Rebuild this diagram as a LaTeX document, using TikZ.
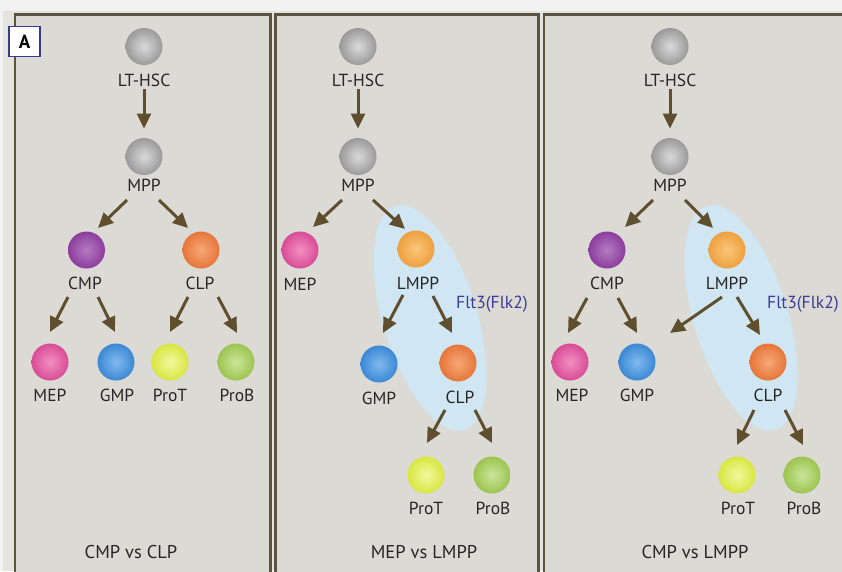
\documentclass[tikz,border=0pt]{standalone}
\usepackage{fontspec}
\setmainfont{PT Sans}
\usetikzlibrary{arrows.meta,calc}
\definecolor{outerbg}{HTML}{E4E3DE}
\definecolor{panelbg}{HTML}{DBDAD5}
\definecolor{frameC}{HTML}{5B5440}
\definecolor{arrC}{HTML}{5F4F2F}
\definecolor{txtC}{HTML}{262626}
\definecolor{fltC}{HTML}{3C3C96}
\definecolor{ellC}{HTML}{D0E7F3}
\definecolor{boxC}{HTML}{3A3A8C}
\definecolor{grayI}{HTML}{DADADA}
\definecolor{grayO}{HTML}{9A9A9A}
\definecolor{purI}{HTML}{B57BC2}
\definecolor{purO}{HTML}{8C3D9C}
\definecolor{orI}{HTML}{F6A878}
\definecolor{orO}{HTML}{E6763A}
\definecolor{lmI}{HTML}{F9C678}
\definecolor{lmO}{HTML}{EEA040}
\definecolor{pkI}{HTML}{F290C2}
\definecolor{pkO}{HTML}{D84C96}
\definecolor{blI}{HTML}{80BAEE}
\definecolor{blO}{HTML}{3C88D4}
\definecolor{yeI}{HTML}{F3F7A0}
\definecolor{yeO}{HTML}{D8E640}
\definecolor{grI}{HTML}{CCE59A}
\definecolor{grO}{HTML}{9CC450}
\tikzset{
  cell/.style 2 args={circle,minimum size=37pt,inner sep=0pt,inner color=#1,outer color=#2},
  cgray/.style={cell={grayI}{grayO}},
  cpurple/.style={cell={purI}{purO}},
  corange/.style={cell={orI}{orO}},
  clmpp/.style={cell={lmI}{lmO}},
  cpink/.style={cell={pkI}{pkO}},
  cblue/.style={cell={blI}{blO}},
  cyellow/.style={cell={yeI}{yeO}},
  cgreen/.style={cell={grI}{grO}},
  lbl/.style={font=\fontsize{17.5}{20}\selectfont,text=txtC,inner sep=0pt},
  bottomtxt/.style={font=\fontsize{18.5}{21}\selectfont,text=txtC,inner sep=0pt},
  flt/.style={font=\fontsize{17.5}{20}\selectfont,text=fltC,inner sep=0pt,anchor=west},
  arr/.style={draw=arrC,line width=3pt,-{Triangle[length=15pt,width=14pt]}},
  frame/.style={draw=frameC,line width=2.2pt,fill=panelbg},
}
\begin{document}
\begin{tikzpicture}[x=1pt,y=-1pt]
\useasboundingbox (0,0) rectangle (842,571);
\fill[white!95!black] (0,0) rectangle (842,571);
\fill[outerbg] (3,11) rectangle (842,571);
% panels
\draw[frame] (15.3,14.5) rectangle (270.5,590);
\draw[frame] (275.5,14.5) rectangle (538.5,590);
\draw[frame] (544,14.5) rectangle (860,590);
% ellipses
\fill[ellC, rotate around={17:(430,318)}] (430,318) ellipse [x radius=47pt, y radius=117pt];
\fill[ellC, rotate around={17:(741,318)}] (741,318) ellipse [x radius=47pt, y radius=117pt];
% label A
\node[draw=boxC,line width=1.6pt,fill=white,minimum width=31pt,minimum height=30pt,inner sep=0pt,
  font=\bfseries\fontsize{19}{20}\selectfont] (lblA) at (24.5,41.5) {A};

% ---------- Panel 1 ----------
\node[cgray] (a1) at (144,46.5) {};
\node[lbl] (a1L) at (144,80) {LT-HSC};
\node[cgray] (a2) at (144,156.5) {};
\node[lbl] (a2L) at (144,185) {MPP};
\node[cpurple] (a3) at (86.5,250) {};
\node[lbl] (a3L) at (85,283) {CMP};
\node[corange] (a4) at (201,250) {};
\node[lbl] (a4L) at (200,283) {CLP};
\node[cpink] (a5) at (50,362) {};
\node[lbl] (a5L) at (50,395) {MEP};
\node[cblue] (a6) at (116,362) {};
\node[lbl] (a6L) at (117,395) {GMP};
\node[cyellow] (a7) at (170,362) {};
\node[lbl] (a7L) at (170,395) {ProT};
\node[cgreen] (a8) at (236,362) {};
\node[lbl] (a8L) at (237,395) {ProB};
\node[bottomtxt] (a9) at (131,552) {CMP vs CLP};
\draw[arr] ($(a1L)+(0,9)$) -- ($(a2)+(0,-28)$);
\draw[arr] ($(a2L)+(-17,15)$) -- ($(a3)+(11.5,-22)$);
\draw[arr] ($(a2L)+(15,15)$) -- ($(a4)+(-13,-22)$);
\draw[arr] ($(a3L)+(-17,14)$) -- ($(a5)+(0,-30)$);
\draw[arr] ($(a3L)+(13,14)$) -- ($(a6)+(-1,-30)$);
\draw[arr] ($(a4L)+(-12,14)$) -- ($(a7)+(0,-30)$);
\draw[arr] ($(a4L)+(18,14)$) -- ($(a8)+(1,-29)$);

% ---------- Panel 2 ----------
\node[cgray] (b1) at (358,46.5) {};
\node[lbl] (b1L) at (358,80) {LT-HSC};
\node[cgray] (b2) at (358,156.5) {};
\node[lbl] (b2L) at (358,185) {MPP};
\node[cpink] (b3) at (300,250) {};
\node[lbl] (b3L) at (300,284) {MEP};
\node[clmpp] (b4) at (416,249) {};
\node[lbl] (b4L) at (418,283) {LMPP};
\node[flt] (b10) at (456,304) {Flt3(Flk2)};
\node[cblue] (b5) at (379,364) {};
\node[lbl] (b5L) at (379,398) {GMP};
\node[corange] (b6) at (458,363) {};
\node[lbl] (b6L) at (460,397) {CLP};
\node[cyellow] (b7) at (426,475) {};
\node[lbl] (b7L) at (426,508) {ProT};
\node[cgreen] (b8) at (492,475) {};
\node[lbl] (b8L) at (493,508) {ProB};
\node[bottomtxt] (b9) at (424,552) {MEP vs LMPP};
\draw[arr] ($(b1L)+(0,9)$) -- ($(b2)+(0,-28)$);
\draw[arr] ($(b2L)+(-16,15)$) -- ($(b3)+(13,-23)$);
\draw[arr] ($(b2L)+(15,15)$) -- ($(b4)+(-11,-20)$);
\draw[arr] ($(b4L)+(-15,12)$) -- ($(b5)+(4,-31)$);
\draw[arr] ($(b4L)+(15,13)$) -- ($(b6)+(-6,-30)$);
\draw[arr] ($(b6L)+(-15,13)$) -- ($(b7)+(1,-32)$);
\draw[arr] ($(b6L)+(15,13)$) -- ($(b8)+(0,-32)$);

% ---------- Panel 3 ----------
\node[cgray] (c1) at (670,46.5) {};
\node[lbl] (c1L) at (670,80) {LT-HSC};
\node[cgray] (c2) at (670,156.5) {};
\node[lbl] (c2L) at (670,185) {MPP};
\node[cpurple] (c3) at (607,250) {};
\node[lbl] (c3L) at (607,283) {CMP};
\node[clmpp] (c4) at (727,250) {};
\node[lbl] (c4L) at (727,283) {LMPP};
\node[flt] (c10) at (767,304) {Flt3(Flk2)};
\node[cpink] (c5) at (570,362) {};
\node[lbl] (c5L) at (572,395) {MEP};
\node[cblue] (c6) at (637,362) {};
\node[lbl] (c6L) at (637,395) {GMP};
\node[corange] (c11) at (768,362) {};
\node[lbl] (c11L) at (768,395) {CLP};
\node[cyellow] (c7) at (737,475) {};
\node[lbl] (c7L) at (738,508) {ProT};
\node[cgreen] (c8) at (802,475) {};
\node[lbl] (c8L) at (804,508) {ProB};
\node[bottomtxt] (c9) at (695,552) {CMP vs LMPP};
\draw[arr] ($(c1L)+(0,9)$) -- ($(c2)+(0,-28)$);
\draw[arr] ($(c2L)+(-17,15)$) -- ($(c3)+(18,-23)$);
\draw[arr] ($(c2L)+(15,15)$) -- ($(c4)+(-14,-22)$);
\draw[arr] ($(c3L)+(-20,15)$) -- ($(c5)+(-2,-29)$);
\draw[arr] ($(c3L)+(11,15)$) -- ($(c6)+(0,-29)$);
\draw[arr] ($(c4L)+(-5,14)$) -- ($(c6)+(33,-29)$);
\draw[arr] ($(c4L)+(10,14)$) -- ($(c11)+(-8,-27)$);
\draw[arr] ($(c11L)+(-14,15)$) -- ($(c7)+(0,-30)$);
\draw[arr] ($(c11L)+(17,15)$) -- ($(c8)+(1,-30)$);
\end{tikzpicture}
\end{document}
